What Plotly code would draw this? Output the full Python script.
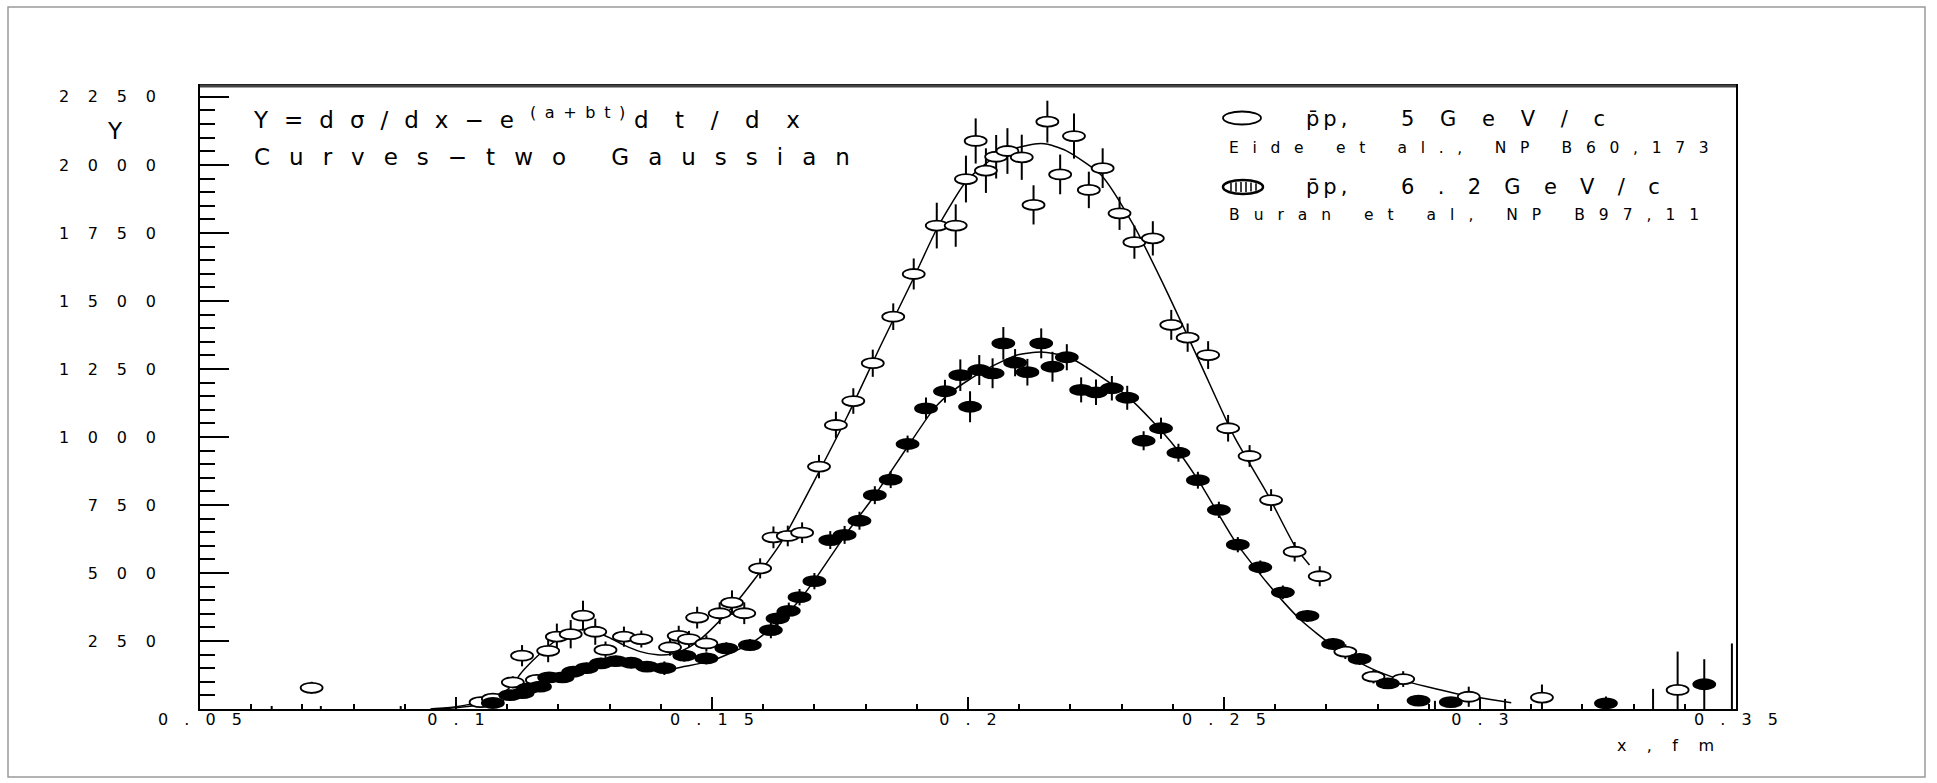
import plotly.graph_objects as go

# ---------------- data ----------------
open_x = [0.0718, 0.1048, 0.1072, 0.1111, 0.1129, 0.1158, 0.1180, 0.1197, 0.1224, 0.1248,
          0.1272, 0.1292, 0.1328, 0.1362, 0.1418, 0.1435, 0.1455, 0.1471, 0.1489, 0.1515,
          0.1539, 0.1563, 0.1594, 0.1620, 0.1648, 0.1676, 0.1709, 0.1742, 0.1776, 0.1814,
          0.1854, 0.1894, 0.1939, 0.1976, 0.1996, 0.2015, 0.2035, 0.2055, 0.2077, 0.2105,
          0.2128, 0.2155, 0.2180, 0.2207, 0.2236, 0.2263, 0.2296, 0.2325, 0.2361, 0.2397,
          0.2429, 0.2469, 0.2508, 0.2550, 0.2592, 0.2638, 0.2687, 0.2737, 0.2792, 0.2850,
          0.2978, 0.3121, 0.3386]
open_y = [78, 25, 38, 98, 196, 107, 214, 266, 275, 343,
          284, 217, 266, 257, 227, 269, 257, 336, 241, 352,
          391, 352, 517, 631, 636, 648, 891, 1044, 1132, 1271,
          1442, 1599, 1777, 1777, 1948, 2088, 1979, 2030, 2051, 2028,
          1853, 2159, 1965, 2106, 1908, 1988, 1822, 1716, 1730, 1412,
          1365, 1301, 1032, 930, 768, 578, 488, 211, 119, 110,
          45, 42, 70]
open_err = [22, 10, 12, 22, 39, 18, 42, 48, 52, 55,
            48, 31, 37, 31, 31, 37, 30, 40, 30, 40,
            45, 40, 37, 40, 38, 38, 43, 49, 47, 50,
            49, 57, 84, 78, 86, 83, 82, 80, 84, 83,
            72, 77, 73, 83, 67, 73, 61, 61, 63, 55,
            52, 51, 49, 40, 40, 36, 37, 27, 25, 29,
            37, 48, 141]

fill_x = [0.1072, 0.1106, 0.1130, 0.1141, 0.1164, 0.1182, 0.1208, 0.1229, 0.1255, 0.1283,
          0.1312, 0.1342, 0.1373, 0.1407, 0.1446, 0.1489, 0.1528, 0.1574, 0.1615, 0.1628,
          0.1650, 0.1671, 0.1700, 0.1731, 0.1759, 0.1788, 0.1818, 0.1849, 0.1882, 0.1918,
          0.1955, 0.1985, 0.2004, 0.2022, 0.2048, 0.2069, 0.2092, 0.2116, 0.2143, 0.2165,
          0.2193, 0.2221, 0.2250, 0.2281, 0.2311, 0.2343, 0.2377, 0.2411, 0.2449, 0.2490,
          0.2527, 0.2571, 0.2615, 0.2663, 0.2713, 0.2765, 0.2820, 0.2880, 0.2943, 0.3246,
          0.3438]
fill_y = [22, 51, 58, 76, 82, 116, 116, 137, 150, 168,
          176, 170, 156, 150, 196, 186, 223, 235, 290, 333,
          361, 411, 470, 621, 640, 692, 786, 843, 974, 1105,
          1168, 1227, 1111, 1246, 1234, 1344, 1273, 1238, 1344, 1258,
          1293, 1173, 1164, 1179, 1144, 986, 1032, 942, 841, 732,
          604, 521, 429, 342, 239, 184, 94, 31, 25, 21,
          91]
fill_err = [10, 15, 15, 15, 15, 18, 18, 18, 20, 20,
            20, 20, 20, 25, 22, 22, 22, 22, 30, 30,
            30, 30, 30, 33, 33, 33, 33, 31, 31, 40,
            42, 58, 57, 55, 55, 60, 50, 49, 55, 55,
            48, 46, 47, 45, 44, 35, 39, 33, 31, 30,
            28, 25, 25, 22, 22, 22, 20, 18, 18, 25,
            92]

# points lying below the axis: only their error bars are visible
low_x = [0.0640, 0.0736, 0.0892, 0.2912, 0.3049, 0.3338, 0.3492]
low_y = [-5, -5, -5, -5, -5, -5, -5]
low_err = [16, 16, 16, 35, 42, 79, 246]

# two-Gaussian curves
curve5_x = [0.0950, 0.1000, 0.1048, 0.1100, 0.1132, 0.1165, 0.1197, 0.1224, 0.1250, 0.1276,
            0.1302, 0.1328, 0.1360, 0.1393, 0.1419, 0.1445, 0.1471, 0.1497, 0.1540, 0.1582,
            0.1634, 0.1699, 0.1764, 0.1830, 0.1895, 0.1940, 0.1999, 0.2064, 0.2130, 0.2156,
            0.2195, 0.2260, 0.2325, 0.2390, 0.2455, 0.2520, 0.2585, 0.2639, 0.2667]
curve5_y = [0, 8, 28, 70, 143, 205, 254, 278, 293, 282,
            260, 235, 211, 199, 201, 217, 247, 290, 375, 474,
            609, 836, 1075, 1338, 1589, 1768, 1945, 2043, 2077, 2076,
            2049, 1963, 1773, 1528, 1265, 1001, 790, 597, 529]
curve62_x = [0.0969, 0.1034, 0.1080, 0.1119, 0.1165, 0.1210, 0.1256, 0.1295, 0.1347, 0.1399,
             0.1445, 0.1497, 0.1576, 0.1628, 0.1671, 0.1699, 0.1765, 0.1816, 0.1882, 0.1934,
             0.1973, 0.2031, 0.2096, 0.2143, 0.2195, 0.2260, 0.2312, 0.2358, 0.2404, 0.2455,
             0.2520, 0.2585, 0.2650, 0.2715, 0.2780, 0.2846, 0.2950, 0.3061]
curve62_y = [0, 12, 33, 60, 94, 131, 159, 170, 156, 140,
             156, 176, 241, 315, 401, 470, 652, 780, 964, 1105,
             1173, 1244, 1301, 1312, 1295, 1221, 1148, 1062, 964, 825,
             621, 462, 327, 229, 156, 107, 58, 23]

x_ticks = [0.05, 0.1, 0.15, 0.2, 0.25, 0.3, 0.35]
x_tick_labels = ["0.05", "0.1", "0.15", "0.2", "0.25", "0.3", "0.35"]
y_ticks = [250, 500, 750, 1000, 1250, 1500, 1750, 2000, 2250]
y_tick_labels = ["250", "500", "750", "1000", "1250", "1500", "1750", "2000", "2250"]

# ---------------- styling helpers ----------------
FONT = "DejaVu Sans"
W = {' ': .318, ',': .318, '.': .318, '/': .337, '=': .838, '−': .838, '(': .390, ')': .390,
     '+': .838, 'A': .684, 'B': .686, 'C': .698, 'E': .632, 'G': .775, 'N': .748, 'P': .603,
     'V': .684, 'Y': .611, 'a': .613, 'b': .635, 'c': .550, 'd': .635, 'e': .615, 'f': .352,
     'i': .278, 'l': .278, 'm': .974, 'n': .634, 'o': .612, 'p': .635, 'r': .411, 's': .521,
     't': .392, 'u': .634, 'v': .592, 'w': .818, 'x': .592, 'σ': .635}
for d in "0123456789":
    W[d] = .636


def spacing(text, size, target, trailing=False):
    chars = [c for c in text if c != '\u0304']
    nat = sum(W.get(c, .6) for c in chars) * size
    gaps = len(chars) if trailing else max(1, len(chars) - 1)
    return max(0.0, (target - nat) / gaps)


def span(text, ls):
    return f'<span style="letter-spacing:{ls:.1f}px">{text}</span>'


def spaced(text, size, target, trailing=False):
    return span(text, spacing(text, size, target, trailing))


L, T, PW, PH = 200, 86, 1536, 623


def px(x):
    return (x - L) / PW


def py(y):
    return (T + PH - y) / PH


fig = go.Figure()

err_style = dict(type='data', visible=True, width=0, thickness=2, color='black')
fig.add_trace(go.Scatter(x=curve5_x, y=curve5_y, mode='lines',
                         line=dict(color='black', width=1.5, shape='spline', smoothing=0.6),
                         showlegend=False, hoverinfo='skip'))
fig.add_trace(go.Scatter(x=curve62_x, y=curve62_y, mode='lines',
                         line=dict(color='black', width=1.5, shape='spline', smoothing=0.6),
                         showlegend=False, hoverinfo='skip'))
for xs, ys, es in [(open_x, open_y, open_err), (fill_x, fill_y, fill_err), (low_x, low_y, low_err)]:
    fig.add_trace(go.Scatter(x=xs, y=ys, mode='markers',
                             marker=dict(size=1, color='rgba(0,0,0,0)'),
                             error_y=dict(array=es, **err_style), showlegend=False))

shapes = []
# data markers: horizontal ellipses anchored at the data points
for xs, ys, filled in [(open_x, open_y, False), (fill_x, fill_y, True)]:
    for xv, yv in zip(xs, ys):
        shapes.append(dict(type='circle', xref='x', yref='y', xsizemode='pixel', ysizemode='pixel',
                           xanchor=xv, yanchor=yv, x0=-11, x1=11, y0=-5, y1=5,
                           line=dict(color='black', width=1.8),
                           fillcolor='black' if filled else 'white', layer='above'))

# legend symbols
shapes.append(dict(type='circle', xref='paper', yref='paper', xsizemode='pixel', ysizemode='pixel',
                   xanchor=px(1242), yanchor=py(118), x0=-19, x1=19, y0=-6.5, y1=6.5,
                   line=dict(color='black', width=1.8), fillcolor='white'))
shapes.append(dict(type='circle', xref='paper', yref='paper', xsizemode='pixel', ysizemode='pixel',
                   xanchor=px(1243), yanchor=py(187), x0=-20, x1=20, y0=-7, y1=7,
                   line=dict(color='black', width=2.5), fillcolor='white'))
for dx in [-12, -7, -2, 3, 8, 13]:
    h = 5.0 * (1 - (dx / 19.0) ** 2) ** 0.5
    shapes.append(dict(type='line', xref='paper', yref='paper', xsizemode='pixel', ysizemode='pixel',
                       xanchor=px(1243), yanchor=py(187), x0=dx, x1=dx, y0=-h, y1=h,
                       line=dict(color='black', width=1.5)))

# outer light frame
shapes.append(dict(type='rect', xref='paper', yref='paper', x0=px(8), x1=px(1925), y0=py(777), y1=py(7),
                   line=dict(color='#9a9a9a', width=1.5), layer='below'))
# slightly heavier grey top edge of the frame
shapes.append(dict(type='line', xref='paper', yref='paper', x0=0, x1=1, y0=1, y1=1,
                   line=dict(color='#444444', width=3)))

annotations = []


def note(text, x, y, size, xanchor='left', yanchor='middle'):
    annotations.append(dict(text=text, x=px(x), y=py(y), xref='paper', yref='paper',
                            xanchor=xanchor, yanchor=yanchor, showarrow=False,
                            font=dict(family=FONT, size=size, color='black')))


S1 = 23      # main annotation lines
S3 = 21      # legend headings
S2 = 15.5    # legend references
ST = 16      # tick labels

line1 = (spaced("Y=dσ/dx−e", S1, 276, trailing=True)
         + "<sup>" + spaced("(a+bt)", S1 * 0.7, 104, trailing=True) + "</sup>"
         + spaced("dt/dx", S1, 166))
note(line1, 251, 118, S1)
note(spaced("Curves−two Gaussian", S1, 595), 252, 157, S1)


def heading(value, width):
    pre = "p\u0304p,"
    pre_ls = 4.0
    end_pre = 1304 + (2 * .635 + .318) * S3 + 3 * pre_ls
    gap_ls = max(0.0, 1399 - end_pre - .318 * S3)
    return span(pre, pre_ls) + span(" ", gap_ls) + spaced(value, S3, width)


note(heading("5GeV/c", 204), 1304, 119, S3)
note(spaced("Eide et al., NP B60,173", S2, 480), 1227, 148, S2)
note(heading("6.2GeV/c", 259), 1304, 187, S3)
note(spaced("Buran et al, NP B97,11", S2, 470), 1227, 215, S2)
note(spaced("x,fm", ST, 97), 1615, 745, ST)
note("Y", 115, 131, S1, xanchor='center')

XS = round(spacing("0.25", ST, 84), 1)
YS = round(spacing("2250", ST, 97), 1)
fig.update_layout(
    width=1937, height=783,
    margin=dict(l=L, r=1937 - L - PW, t=T, b=783 - T - PH),
    paper_bgcolor='white', plot_bgcolor='white',
    font=dict(family=FONT, color='black'),
    shapes=shapes, annotations=annotations,
    xaxis=dict(range=[0.05, 0.35], showgrid=False, zeroline=False,
               showline=True, linecolor='black', linewidth=2, mirror=True,
               ticks='inside', ticklen=12, tickwidth=1.5, tickcolor='black',
               tickmode='array', tickvals=x_ticks,
               ticktext=[span(t, XS) for t in x_tick_labels],
               ticklabelshift=int(round(XS / 2)), ticklabelstandoff=-5,
               tickfont=dict(family=FONT, size=ST, color='black'),
               minor=dict(tickmode='linear', tick0=0.05, dtick=0.01, ticks='inside', ticklen=5,
                          tickwidth=1.5, tickcolor='black', showgrid=False)),
    yaxis=dict(range=[0, 2290], showgrid=False, zeroline=False,
               showline=True, linecolor='black', linewidth=2, mirror=True,
               ticks='inside', ticklen=29, tickwidth=1.5, tickcolor='black',
               tickmode='array', tickvals=y_ticks,
               ticktext=[span(t, YS) for t in y_tick_labels],
               ticklabelstandoff=int(round(39 - YS)),
               tickfont=dict(family=FONT, size=ST, color='black'),
               minor=dict(tickmode='linear', tick0=0, dtick=50, ticks='inside', ticklen=15,
                          tickwidth=1.5, tickcolor='black', showgrid=False)),
)

fig.write_html("out.html")
